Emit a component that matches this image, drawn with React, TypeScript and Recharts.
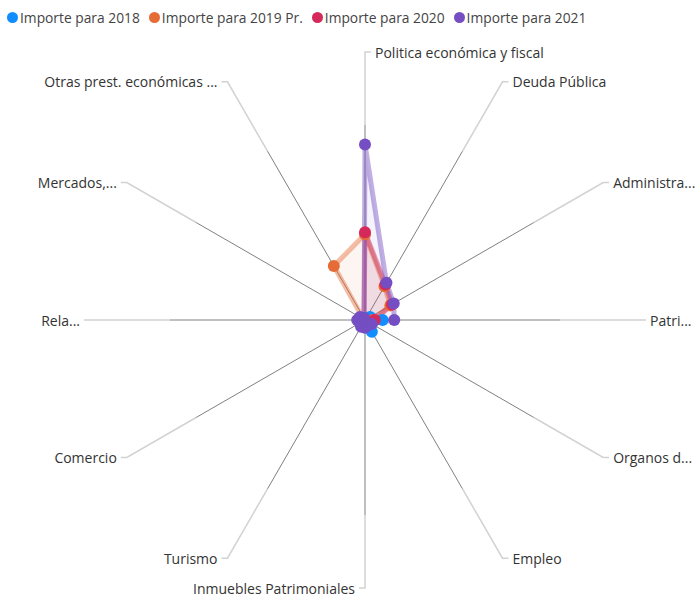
import { RadarChart, Radar, PolarGrid, PolarAngleAxis, PolarRadiusAxis } from "recharts";

const categories = [
  "Politica económica y fiscal",
  "Deuda Pública",
  "Administra...",
  "Patri...",
  "Organos d...",
  "Empleo",
  "Inmuebles Patrimoniales",
  "Turismo",
  "Comercio",
  "Rela...",
  "Mercados,...",
  "Otras prest. económicas ...",
];

const importe2018 = [1, 1, 3, 9, 4, 7, 2, 1, 1, 1, 1, 1];
const importe2019 = [44, 20, 15, 4, 2, 1, 1, 1, 1, 1, 1, 32];
const importe2020 = [45, 21, 16, 5, 2, 1, 1, 1, 1, 1, 1, 1];
const importe2021 = [90, 22, 17, 15, 4, 3, 4, 4, 3, 4, 3, 1];

const seriesNames = ["Importe para 2018", "Importe para 2019 Pr.", "Importe para 2020", "Importe para 2021"];
const seriesKeys = ["y2018", "y2019", "y2020", "y2021"];
const seriesColors = ["#118DFF", "#E66C37", "#D6295B", "#744EC2"];

const data = categories.map((name, i) => ({
  name,
  y2018: importe2018[i],
  y2019: importe2019[i],
  y2020: importe2020[i],
  y2021: importe2021[i],
}));

const CX = 365;
const CY = 320;
const R = 195;
const FONT = '"Segoe UI", "Open Sans", sans-serif';

function AxisLabel(props: any) {
  const { payload } = props;
  const rad = (payload.coordinate * Math.PI) / 180;
  const cos = Math.cos(rad);
  const sin = Math.sin(rad);
  // top/bottom labels sit a little closer to the centre
  const r2 = Math.abs(cos) < 0.01 ? 268 : 275;
  const x1 = CX + R * cos;
  const y1 = CY - R * sin;
  const x2 = CX + r2 * cos;
  const y2 = CY - r2 * sin;
  const right = cos > 0.01 || (Math.abs(cos) <= 0.01 && sin > 0);
  const dir = right ? 1 : -1;
  const x3 = x2 + 6 * dir;
  return (
    <g>
      <path d={`M${x1},${y1}L${x2},${y2}L${x3},${y2}`} stroke="#d2d2d2" strokeWidth={1.5} fill="none" />
      <text
        x={x3 + 4 * dir}
        y={y2}
        textAnchor={right ? "start" : "end"}
        dominantBaseline="central"
        fontSize={14}
        fontFamily={FONT}
        fill="#333"
      >
        {payload.value}
      </text>
    </g>
  );
}

export default function App() {
  return (
    <div style={{ position: "absolute", left: 0, top: 0, width: 695, height: 597, background: "#fff" }}>
      <div
        style={{
          position: "absolute",
          left: 7,
          top: 8,
          display: "flex",
          alignItems: "center",
          fontFamily: FONT,
          fontSize: 13.8,
          color: "#444",
          whiteSpace: "nowrap",
        }}
      >
        {seriesNames.map((n, i) => (
          <span key={n} style={{ display: "flex", alignItems: "center", marginRight: 9 }}>
            <span
              style={{
                width: 11,
                height: 11,
                borderRadius: 6,
                background: seriesColors[i],
                display: "inline-block",
                marginRight: 2,
              }}
            />
            {n}
          </span>
        ))}
      </div>
      <RadarChart
        width={695}
        height={597}
        data={data}
        cx={CX}
        cy={CY}
        outerRadius={R}
        margin={{ top: 0, right: 0, bottom: 0, left: 0 }}
      >
        <PolarGrid gridType="circle" polarRadius={[0]} stroke="#808080" strokeWidth={1} />
        <PolarAngleAxis dataKey="name" axisLine={false} tickLine={false} tick={<AxisLabel />} />
        <PolarRadiusAxis domain={[0, 100]} tick={false} axisLine={false} />
        {seriesKeys.map((k, i) => (
          <Radar
            key={k}
            name={seriesNames[i]}
            dataKey={k}
            stroke={seriesColors[i]}
            strokeWidth={5}
            strokeOpacity={0.45}
            fill={seriesColors[i]}
            fillOpacity={0.07}
            dot={{ r: 6, fill: seriesColors[i], fillOpacity: 1, stroke: "none" }}
            isAnimationActive={false}
          />
        ))}
      </RadarChart>
    </div>
  );
}
